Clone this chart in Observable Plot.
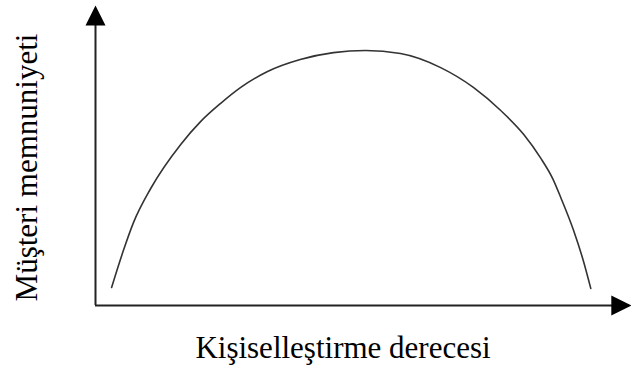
<!DOCTYPE html>
<html>
<head>
<meta charset="utf-8">
<script src="https://cdn.jsdelivr.net/npm/d3@7"></script>
<script src="https://cdn.jsdelivr.net/npm/@observablehq/plot@0.6"></script>
<style>
  html, body { margin: 0; padding: 0; background: #fff; }
  svg { display: block; }
</style>
</head>
<body>
<div id="chart"></div>
<script>
// Degree of personalisation (x, arbitrary 0–100) and customer satisfaction (y, arbitrary 0–100)
const degree       = [3.0, 5.2, 7.1, 10.3, 15.9, 19.6, 23.3, 27.1, 32.1, 38.2, 44.4, 50.4, 56.9, 64.4, 70.5, 75.6, 79.9, 83.0, 85.3, 86.8, 89.2, 91.0, 92.4];
const satisfaction = [6.0, 18.3, 27.7, 39.0, 53.7, 61.3, 67.3, 72.7, 78.0, 82.0, 84.3, 85.0, 84.0, 79.3, 72.7, 65.0, 57.0, 49.3, 42.3, 36.0, 25.0, 15.0, 5.7];

const xLabel = "Kişiselleştirme derecesi";
const yLabel = "Müşteri memnuniyeti";

// axis extents (data units)
const xAxisEnd = 98.1;
const yAxisEnd = 96.7;

const curve = degree.map((d, i) => ({degree: d, satisfaction: satisfaction[i]}));

// filled triangle arrow head, tip pointing up
const arrowHead = {
  draw(context, size) {
    const r = Math.sqrt(size / Math.PI);
    context.moveTo(0, -r);
    context.lineTo(r, r);
    context.lineTo(-r, r);
    context.closePath();
  }
};

const font = "'Liberation Serif', 'Times New Roman', serif";

const chart = Plot.plot({
  width: 631,
  height: 379,
  marginLeft: 95,
  marginRight: 0,
  marginTop: 5,
  marginBottom: 74,
  x: {domain: [0, 100], axis: null},
  y: {domain: [0, 100], axis: null},
  style: {fontFamily: font, background: "#fff"},
  marks: [
    Plot.ruleX([0], {y1: 0, y2: yAxisEnd - 2, stroke: "#222", strokeWidth: 2}),
    Plot.ruleY([0], {x1: 0, x2: xAxisEnd - 1, stroke: "#222", strokeWidth: 2}),
    Plot.dot([{x: 0, y: yAxisEnd}], {x: "x", y: "y", r: 10, symbol: arrowHead, fill: "#000", stroke: "none"}),
    Plot.dot([{x: xAxisEnd, y: 0}], {x: "x", y: "y", r: 10, symbol: arrowHead, fill: "#000", stroke: "none", rotate: 90}),
    Plot.line(curve, {x: "degree", y: "satisfaction", curve: "monotone-x", stroke: "#333", strokeWidth: 1.6}),
    Plot.text([xLabel], {frameAnchor: "bottom", textAnchor: "middle", dx: -20.5, dy: 52, fontSize: 31, fill: "#000", fontFamily: font}),
    Plot.text([yLabel], {frameAnchor: "left", textAnchor: "middle", rotate: -90, dx: -68, dy: 12, fontSize: 31, fill: "#000", fontFamily: font})
  ]
});

document.getElementById("chart").appendChild(chart);
</script>
</body>
</html>
